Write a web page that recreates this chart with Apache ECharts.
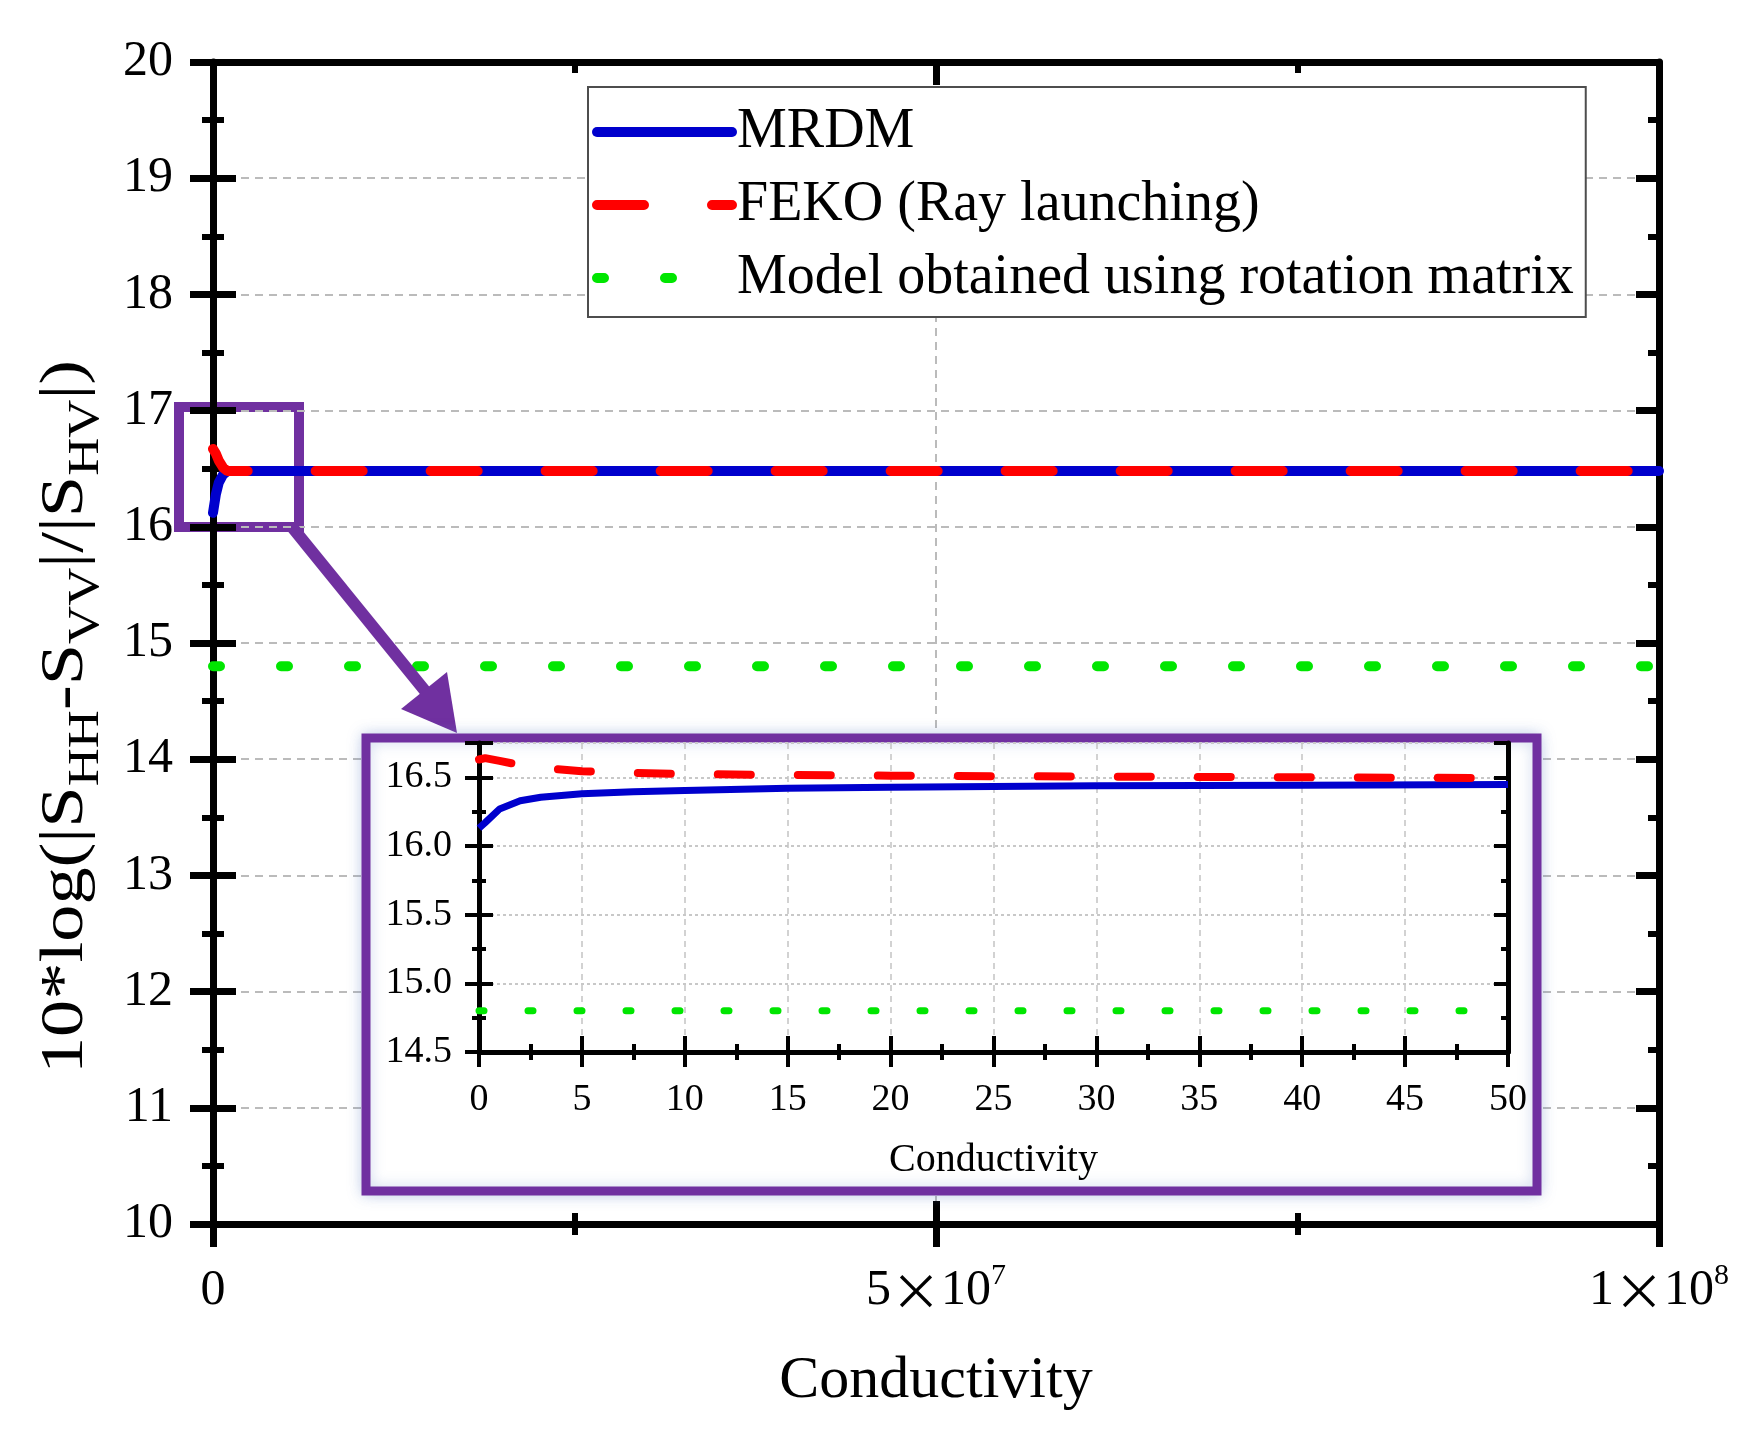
<!DOCTYPE html>
<html><head><meta charset="utf-8">
<script src="https://cdn.jsdelivr.net/npm/echarts@6/dist/echarts.min.js"></script>
<style>html,body{margin:0;padding:0;background:#fff}#c{width:1759px;height:1440px}</style>
</head><body><div id="c"></div><script>
// ---------- data ----------
const seriesNames = ['MRDM', 'FEKO (Ray launching)', 'Model obtained using rotation matrix'];
// main panel (conductivity 0 .. 1e8)
const mainX        = [0, 200000, 400000, 700000, 1000000, 100000000];
const mrdmMain     = [16.12, 16.28, 16.38, 16.45, 16.48, 16.48];
const fekoMain     = [16.67, 16.63, 16.57, 16.51, 16.48, 16.48];
const rotMain      = [14.8, 14.8, 14.8, 14.8, 14.8, 14.8];
// inset panel (conductivity 0 .. 50)
const insetX       = [0, 0.3, 1, 2, 3, 5, 7.5, 10, 15, 20, 30, 40, 50];
const mrdmInset    = [16.13, 16.17, 16.27, 16.33, 16.355, 16.38, 16.395, 16.405, 16.42, 16.428, 16.438, 16.443, 16.447];
const fekoInset    = [16.63, 16.64, 16.62, 16.59, 16.57, 16.545, 16.532, 16.524, 16.517, 16.512, 16.505, 16.5, 16.495];
const rotInset     = [14.8, 14.8, 14.8, 14.8, 14.8, 14.8, 14.8, 14.8, 14.8, 14.8, 14.8, 14.8, 14.8];
// tick labels
const mainXTickValues = [0, 50000000, 100000000];
const mainXTickBase   = ['0', '5', '1'];
const mainXTickExp    = ['', '7', '8'];
const yTitleParts     = ['10*log(|S', 'HH', '-S', 'VV', '|/|S', 'HV', '|)'];
const xTitle = 'Conductivity';

// ---------- style ----------
const BLUE = '#0000cd', RED = '#ff0000', GREEN = '#00e600', PURPLE = '#7030a0';
const SERIF = 'Liberation Serif';
const zip = (xs, ys) => xs.map((x, i) => [x, ys[i]]);

const chart = echarts.init(document.getElementById('c'), null, {renderer: 'canvas'});

const mainXBase = {type:'value', gridIndex:0, min:0, max:100000000, interval:50000000};
const mainYBase = {type:'value', gridIndex:0, min:10, max:20, interval:1};
const inXBase = {type:'value', gridIndex:1, min:0, max:50, interval:5};
const inYBase = {type:'value', gridIndex:1, min:14.5, max:16.75, interval:0.5};
const blackLine = w => ({show:true, onZero:false, lineStyle:{color:'#000', width:w}});
const noLine = {show:false};
const tick = (inside, len, w) => ({show:true, inside, length:len, lineStyle:{color:'#000', width:w}});
const minor = (len, w) => ({show:true, splitNumber:2, length:len, lineStyle:{color:'#000', width:w}});
const noLabel = {show:false};
const noSplit = {show:false};

function xLabelFmt(v) {
  const i = mainXTickValues.indexOf(v);
  if (i < 0) return '';
  return mainXTickExp[i] ? `{b|${mainXTickBase[i]}}{x|×}{b|10}{p|${mainXTickExp[i]}}` : `{b|${mainXTickBase[i]}}`;
}

const yTitleRich = yTitleParts.map((p, i) => i % 2 === 0 ? `{n|${p}}` : `{s|${p}}`).join('');

const option = {
  animation: false,
  backgroundColor: '#fff',
  grid: [
    {left:213, right:100, top:62, bottom:216, outerBoundsMode:'none', containLabel:false},
    {left:479, right:251, top:743, bottom:388, outerBoundsMode:'none', containLabel:false}
  ],
  legend: {
    left:588, top:87, orient:'vertical', z:6, backgroundColor:'#fff',
    borderColor:'#4d4d4d', borderWidth:2, borderRadius:0, padding:[15,12,9,4],
    itemGap:13, itemWidth:135, itemHeight:20, selectedMode:false,
    textStyle:{fontFamily:SERIF, fontSize:56, color:'#000', lineHeight:60},
    lineStyle:{width:10},
    itemStyle:{opacity:0},
    data: seriesNames
  },
  xAxis: [
    Object.assign({}, mainXBase, {position:'bottom', z:3, axisLine:blackLine(7), axisTick:tick(false,23,7), minorTick:minor(11,6),
      splitLine:{show:true, lineStyle:{color:'#bbbbbb', width:2, type:[8,6]}},
      axisLabel:{show:true, margin:37, color:'#000', fontFamily:SERIF, fontSize:50, formatter:xLabelFmt,
        rich:{b:{fontSize:50, lineHeight:60, fontFamily:SERIF}, x:{fontSize:50, lineHeight:60, fontFamily:'Noto Sans CJK SC'}, p:{fontSize:30, lineHeight:30, verticalAlign:'top', fontFamily:SERIF}}},
      name:xTitle, nameLocation:'middle', nameGap:127, nameTextStyle:{fontFamily:SERIF, fontSize:60, color:'#000'}}),
    Object.assign({}, mainXBase, {position:'bottom', z:3, axisLine:noLine, axisTick:tick(true,23,7), minorTick:minor(11,6), splitLine:noSplit, axisLabel:noLabel}),
    Object.assign({}, mainXBase, {position:'top', z:3, axisLine:blackLine(7), axisTick:tick(true,23,7), minorTick:minor(11,6), splitLine:noSplit, axisLabel:noLabel}),
    Object.assign({}, inXBase, {position:'bottom', z:10, axisLine:blackLine(5), axisTick:tick(false,15,4), minorTick:minor(8,4),
      splitLine:{show:true, lineStyle:{color:'#c4c4c4', width:1.5, type:[6,5]}},
      axisLabel:{show:true, margin:29, color:'#000', fontFamily:SERIF, fontSize:38},
      name:xTitle, nameLocation:'middle', nameGap:88, nameTextStyle:{fontFamily:SERIF, fontSize:40, color:'#000'}}),
    Object.assign({}, inXBase, {position:'bottom', z:10, axisLine:noLine, axisTick:tick(true,16,4), minorTick:minor(8,4), splitLine:noSplit, axisLabel:noLabel})
  ],
  yAxis: [
    Object.assign({}, mainYBase, {position:'left', z:3, axisLine:blackLine(7), axisTick:tick(false,23,7), minorTick:minor(11,6),
      splitLine:{show:true, lineStyle:{color:'#bbbbbb', width:2, type:[8,6]}},
      axisLabel:{show:true, margin:40, color:'#000', fontFamily:SERIF, fontSize:50}}),
    Object.assign({}, mainYBase, {position:'left', z:3, axisLine:noLine, axisTick:tick(true,23,7), minorTick:minor(11,6), splitLine:noSplit, axisLabel:noLabel}),
    Object.assign({}, mainYBase, {position:'right', z:3, axisLine:blackLine(7), axisTick:tick(true,23,7), minorTick:minor(11,6), splitLine:noSplit, axisLabel:noLabel}),
    Object.assign({}, inYBase, {position:'left', z:10, axisLine:blackLine(5), axisTick:tick(false,14,4), minorTick:minor(7,4),
      splitLine:{show:true, lineStyle:{color:'#c8c8c8', width:2, type:[3,3]}},
      axisLabel:{show:true, margin:27, color:'#000', fontFamily:SERIF, fontSize:38, showMaxLabel:false, formatter:v => v.toFixed(1)}}),
    Object.assign({}, inYBase, {position:'left', z:10, axisLine:noLine, axisTick:tick(true,14,4), minorTick:minor(7,4), splitLine:noSplit, axisLabel:noLabel}),
    Object.assign({}, inYBase, {position:'right', z:10, axisLine:blackLine(5), axisTick:tick(true,14,4), minorTick:minor(7,4), splitLine:noSplit, axisLabel:noLabel})
  ],
  series: [
    {type:'line', name:seriesNames[0], xAxisIndex:0, yAxisIndex:0, z:4, symbol:'none', data:zip(mainX, mrdmMain),
      itemStyle:{color:BLUE}, lineStyle:{color:BLUE, width:10, cap:'round'}},
    {type:'line', name:seriesNames[1], xAxisIndex:0, yAxisIndex:0, z:4, symbol:'none', data:zip(mainX, fekoMain),
      itemStyle:{color:RED}, lineStyle:{color:RED, width:10, type:[47,68], cap:'round'}},
    {type:'line', name:seriesNames[2], xAxisIndex:0, yAxisIndex:0, z:4, symbol:'none', data:zip(mainX, rotMain),
      itemStyle:{color:GREEN}, lineStyle:{color:GREEN, width:10, type:[7,61], cap:'round'}},
    {type:'line', name:seriesNames[0], xAxisIndex:3, yAxisIndex:3, z:11, symbol:'none', data:zip(insetX, mrdmInset),
      itemStyle:{color:BLUE}, lineStyle:{color:BLUE, width:7}},
    {type:'line', name:seriesNames[1], xAxisIndex:3, yAxisIndex:3, z:11, symbol:'none', data:zip(insetX, fekoInset),
      itemStyle:{color:RED}, lineStyle:{color:RED, width:8, type:[33,47], cap:'round'}},
    {type:'line', name:seriesNames[2], xAxisIndex:3, yAxisIndex:3, z:11, symbol:'none', data:zip(insetX, rotInset),
      itemStyle:{color:GREEN}, lineStyle:{color:GREEN, width:7, type:[5,44], cap:'round'}}
  ],
  graphic: [
    {type:'rect', z:1, shape:{x:179, y:407, width:120, height:120}, style:{fill:'none', stroke:PURPLE, lineWidth:10}},
    {type:'line', z:5, shape:{x1:292, y1:527, x2:430, y2:697}, style:{stroke:PURPLE, lineWidth:12}},
    {type:'polygon', z:5, shape:{points:[[457,733],[447,672],[401,709]]}, style:{fill:PURPLE}},
    {type:'rect', z:5, shape:{x:366, y:738, width:1171, height:453},
      style:{fill:'#fff', stroke:PURPLE, lineWidth:9, shadowBlur:14, shadowColor:'rgba(110,140,200,0.35)'}},
    {type:'text', z:5, x:66, y:717, rotation:Math.PI/2, scaleX:1.2, scaleY:1,
      style:{text:yTitleRich, align:'center', verticalAlign:'middle', fill:'#000', fontFamily:SERIF, fontSize:62,
        rich:{n:{fontFamily:SERIF, fontSize:62, lineHeight:84, fill:'#000'}, s:{fontFamily:SERIF, fontSize:44, lineHeight:44, verticalAlign:'bottom', fill:'#000'}}}}
  ]
};
chart.setOption(option);
</script></body></html>
